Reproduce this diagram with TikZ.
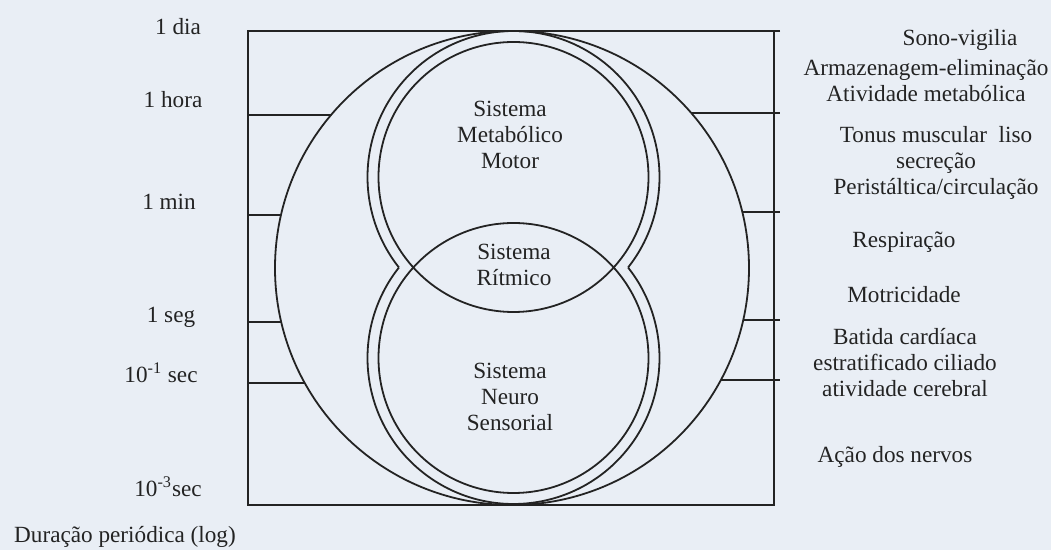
\documentclass[tikz,border=0pt]{standalone}
\usepackage{fontspec}
\setmainfont{Liberation Serif}
\usepackage{tikz}
\definecolor{paper}{RGB}{233, 238, 245}
\definecolor{ink}{RGB}{35, 35, 35}

\begin{document}
\begin{tikzpicture}[x=5pt, y=-5pt, line width=0.9pt, draw=ink, text=ink,
		every node/.style={font=\fontsize{11.6}{13}\selectfont, align=center, inner sep=0pt}]
		\fill[paper] (0,0) rectangle (105.1,55);
		
		\coordinate (mid) at (51.2,26.8);
		\coordinate (upc) at (51.35,17.7);
		\coordinate (loc) at (51.35,35.8);
		
		\draw (78.0,3.1) -- (24.8,3.1) -- (24.8,50.5) -- (77.4,50.5) -- (77.4,3.1);
		\draw (mid) circle[radius=118.5pt];
		
		\draw (upc) circle[radius=67.5pt];
		\draw (loc) circle[radius=67.5pt];
		\draw (upc) ++(-38.3:73pt) arc[start angle=-38.3, end angle=218.3, radius=73pt];
		\draw (loc) ++(141.7:73pt) arc[start angle=141.7, end angle=398.3, radius=73pt];
		
		\foreach \y in {11.5,21.5,32.2,38.3}
			\draw (24.8,\y) -- ({51.2-sqrt(23.7^2-(\y-26.8)^2)},\y);
		\foreach \y in {11.3,21.2,32.0,38.0}
			\draw ({51.2+sqrt(23.7^2-(\y-26.8)^2)},\y) -- (78.0,\y);
		
		\node (dia) at (17.8,2.7) {1 dia};
		\node (hora) at (17.3,10.0) {1 hora};
		\node (min) at (16.9,20.2) {1 min};
		\node (seg) at (17.1,31.7) {1 seg};
		\node (decimo) at (16.1,37.3) {10\textsuperscript{-1} sec};
		\node (milesimo) at (16.8,48.7) {10\textsuperscript{-3}sec};
		\node (duracao) at (12.5,53.7) {Duração periódica (log)};
		
		\node (metabolico) at (51.0,13.5) {Sistema\\Metabólico\\Motor};
		\node (ritmico) at (51.4,26.5) {Sistema\\Rítmico};
		\node (neuro) at (51.0,39.7) {Sistema\\Neuro\\Sensorial};
		
		\node (sono) at (96.0,4.0) {Sono-vigilia};
		\node (armazenagem) at (92.6,8.05) {Armazenagem-eliminação\\Atividade metabólica};
		\node (tonus) at (93.6,16.3) {Tonus muscular\ \ liso\\secreção\\Peristáltica/circulação};
		\node (respiracao) at (90.4,24.2) {Respiração};
		\node (motricidade) at (90.4,29.5) {Motricidade};
		\node (batida) at (90.5,36.3) {Batida cardíaca\\estratificado ciliado\\atividade cerebral};
		\node (nervos) at (89.5,45.7) {Ação dos nervos};
	\end{tikzpicture}
\end{document}
